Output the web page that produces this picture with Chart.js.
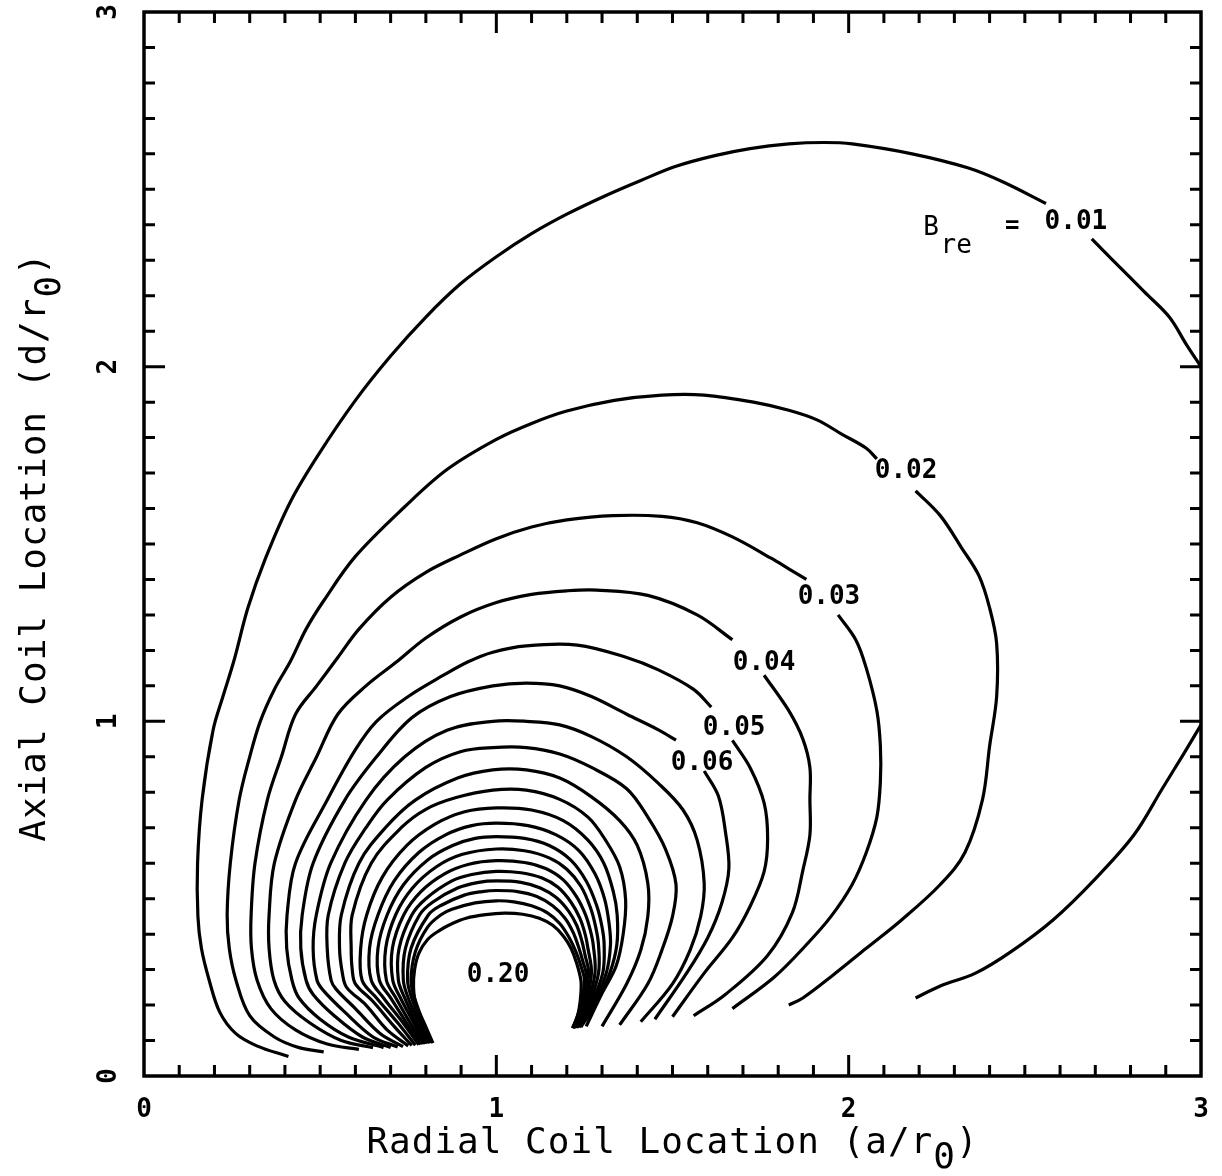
<!DOCTYPE html>
<html><head><meta charset="utf-8">
<script src="https://cdn.jsdelivr.net/npm/chart.js@4.4.1/dist/chart.umd.min.js"></script>
<style>html,body{margin:0;padding:0;background:#fff;}canvas{display:block;}</style>
</head><body>
<canvas id="c" width="1222" height="1176"></canvas>
<script>
// ---- axis tick labels ----
const xTickLabels = ['0', '1', '2', '3'];
const yTickLabels = ['0', '1', '2', '3'];
const xTitle = 'Radial Coil Location (a/r';
const yTitle = 'Axial Coil Location (d/r';
const titleSub = '0';

// ---- contour levels and their labels ----
const labelText = ['0.01', '0.02', '0.03', '0.04', '0.05', '0.06', '0.20'];
const labelX = [2.645, 2.163, 1.944, 1.760, 1.675, 1.584, 1.005];
const labelY = [2.408, 1.706, 1.351, 1.164, 0.981, 0.883, 0.285];

// ---- contour lines (x = a/r0, y = d/r0) ----
const c01a = [[0.41,0.055],[0.32,0.085],[0.26,0.12],[0.215,0.18],[0.185,0.27],[0.163,0.36],[0.153,0.45],[0.152,0.60],[0.165,0.78],[0.196,0.975],[0.224,1.07],[0.255,1.17],[0.295,1.32],[0.345,1.46],[0.416,1.62],[0.497,1.755],[0.60,1.905],[0.70,2.03],[0.80,2.14],[0.90,2.235],[1.00,2.31],[1.10,2.375],[1.20,2.43],[1.305,2.48],[1.41,2.525],[1.51,2.565],[1.62,2.595],[1.72,2.615],[1.83,2.628],[1.93,2.632],[2.01,2.628],[2.18,2.60],[2.34,2.56],[2.44,2.52],[2.56,2.46]];
const c01b = [[2.69,2.36],[2.75,2.30],[2.84,2.21],[2.91,2.14],[2.96,2.06],[3.0,2.0]];
const c01c = [[3.0,0.99],[2.95,0.907],[2.89,0.81],[2.81,0.68],[2.70,0.556],[2.58,0.44],[2.46,0.35],[2.36,0.29],[2.26,0.254],[2.19,0.22]];

const c02a = [[0.51,0.068],[0.44,0.08],[0.37,0.11],[0.30,0.17],[0.261,0.27],[0.242,0.36],[0.236,0.454],[0.245,0.60],[0.27,0.778],[0.30,0.90],[0.33,1.0],[0.37,1.09],[0.416,1.17],[0.46,1.26],[0.51,1.34],[0.60,1.465],[0.74,1.605],[0.86,1.71],[1.00,1.795],[1.10,1.84],[1.20,1.875],[1.335,1.905],[1.47,1.92],[1.59,1.92],[1.73,1.90],[1.83,1.877],[1.91,1.85],[1.98,1.81],[2.05,1.77],[2.08,1.74]];
const c02b = [[2.19,1.65],[2.26,1.58],[2.32,1.49],[2.37,1.41],[2.40,1.32],[2.42,1.22],[2.42,1.07],[2.40,0.93],[2.38,0.78],[2.33,0.63],[2.26,0.54],[2.15,0.44],[2.05,0.36],[1.95,0.28],[1.87,0.22],[1.83,0.20]];

const c03a = [[0.61,0.075],[0.52,0.09],[0.43,0.13],[0.36,0.19],[0.321,0.27],[0.305,0.36],[0.304,0.454],[0.315,0.60],[0.35,0.778],[0.39,0.90],[0.43,1.02],[0.49,1.10],[0.55,1.18],[0.61,1.26],[0.70,1.35],[0.80,1.42],[0.90,1.47],[1.00,1.515],[1.10,1.548],[1.20,1.568],[1.33,1.58],[1.47,1.578],[1.57,1.56],[1.67,1.52],[1.78,1.46],[1.83,1.43],[1.88,1.40]];
const c03b = [[1.97,1.30],[2.02,1.23],[2.05,1.15],[2.08,1.03],[2.09,0.93],[2.09,0.83],[2.08,0.73],[2.05,0.63],[2.01,0.54],[1.95,0.45],[1.88,0.37],[1.79,0.28],[1.67,0.19]];

const c04a = [[0.65,0.08],[0.56,0.10],[0.47,0.15],[0.40,0.21],[0.369,0.27],[0.355,0.36],[0.355,0.454],[0.37,0.60],[0.43,0.778],[0.49,0.90],[0.55,1.02],[0.63,1.10],[0.72,1.17],[0.80,1.235],[0.90,1.295],[1.00,1.335],[1.10,1.358],[1.20,1.368],[1.285,1.37],[1.43,1.355],[1.57,1.30],[1.67,1.23]];
const c04b = [[1.76,1.13],[1.83,1.03],[1.87,0.95],[1.89,0.87],[1.89,0.78],[1.89,0.68],[1.87,0.58],[1.84,0.46],[1.77,0.34],[1.65,0.23],[1.56,0.17]];

const c05a = [[0.68,0.08],[0.58,0.11],[0.50,0.16],[0.44,0.22],[0.42,0.27],[0.405,0.36],[0.406,0.454],[0.43,0.60],[0.52,0.778],[0.60,0.92],[0.66,1.0],[0.75,1.07],[0.85,1.13],[0.92,1.168],[0.99,1.195],[1.085,1.213],[1.23,1.215],[1.37,1.18],[1.46,1.145],[1.56,1.09],[1.61,1.04]];
const c05b = [[1.67,0.946],[1.72,0.87],[1.76,0.77],[1.77,0.67],[1.76,0.576],[1.72,0.478],[1.67,0.39],[1.59,0.29],[1.50,0.167]];

const c06a = [[0.70,0.08],[0.62,0.11],[0.54,0.17],[0.48,0.23],[0.46,0.27],[0.445,0.36],[0.449,0.454],[0.48,0.60],[0.57,0.778],[0.66,0.90],[0.76,1.01],[0.87,1.07],[0.99,1.10],[1.085,1.108],[1.18,1.10],[1.27,1.07],[1.37,1.02],[1.46,0.976],[1.51,0.947]];
const c06b = [[1.59,0.86],[1.63,0.79],[1.65,0.69],[1.66,0.585],[1.64,0.488],[1.60,0.39],[1.54,0.29],[1.45,0.16]];

const c07 = [[0.72,0.082],[0.65,0.11],[0.57,0.18],[0.51,0.24],[0.491,0.27],[0.48,0.36],[0.489,0.454],[0.53,0.60],[0.63,0.778],[0.74,0.90],[0.86,0.975],[0.99,1.00],[1.085,1.00],[1.18,0.99],[1.27,0.957],[1.37,0.90],[1.46,0.825],[1.53,0.75],[1.57,0.665],[1.59,0.543],[1.58,0.45],[1.55,0.355],[1.50,0.26],[1.41,0.153]];
const c08 = [[0.735,0.083],[0.67,0.12],[0.60,0.19],[0.545,0.245],[0.531,0.27],[0.52,0.36],[0.523,0.454],[0.57,0.60],[0.63,0.70],[0.69,0.778],[0.80,0.87],[0.90,0.915],[0.99,0.926],[1.085,0.926],[1.18,0.908],[1.27,0.87],[1.37,0.81],[1.43,0.73],[1.48,0.64],[1.51,0.54],[1.50,0.45],[1.47,0.355],[1.43,0.26],[1.35,0.144]];
const c09 = [[0.75,0.085],[0.69,0.13],[0.63,0.20],[0.575,0.25],[0.563,0.29],[0.555,0.36],[0.56,0.454],[0.61,0.60],[0.685,0.70],[0.77,0.778],[0.89,0.84],[0.99,0.863],[1.085,0.863],[1.18,0.84],[1.27,0.787],[1.35,0.72],[1.40,0.65],[1.43,0.543],[1.43,0.45],[1.41,0.355],[1.37,0.26],[1.30,0.14]];
const c10 = [[0.76,0.086],[0.71,0.14],[0.65,0.21],[0.60,0.26],[0.591,0.30],[0.588,0.36],[0.591,0.454],[0.645,0.60],[0.73,0.70],[0.80,0.752],[0.886,0.785],[0.99,0.806],[1.085,0.806],[1.18,0.78],[1.26,0.73],[1.31,0.665],[1.35,0.59],[1.367,0.496],[1.36,0.40],[1.34,0.31],[1.30,0.233],[1.255,0.14]];
const c11 = [[0.77,0.087],[0.72,0.15],[0.66,0.22],[0.619,0.27],[0.615,0.36],[0.632,0.454],[0.676,0.56],[0.746,0.65],[0.826,0.71],[0.91,0.745],[1.00,0.756],[1.10,0.75],[1.19,0.72],[1.26,0.665],[1.305,0.60],[1.332,0.52],[1.343,0.454],[1.342,0.37],[1.322,0.29],[1.28,0.20],[1.24,0.138]];
const c12 = [[0.78,0.088],[0.735,0.15],[0.68,0.22],[0.645,0.27],[0.64,0.36],[0.664,0.454],[0.71,0.55],[0.78,0.63],[0.856,0.68],[0.93,0.706],[1.00,0.713],[1.09,0.706],[1.17,0.68],[1.235,0.635],[1.28,0.57],[1.307,0.50],[1.32,0.43],[1.324,0.37],[1.312,0.29],[1.274,0.20],[1.235,0.137]];
const c13 = [[0.785,0.089],[0.745,0.15],[0.70,0.22],[0.668,0.27],[0.664,0.36],[0.69,0.454],[0.737,0.54],[0.806,0.61],[0.876,0.65],[0.94,0.67],[1.00,0.675],[1.08,0.67],[1.15,0.65],[1.21,0.61],[1.255,0.55],[1.285,0.48],[1.30,0.42],[1.306,0.37],[1.302,0.29],[1.268,0.20],[1.23,0.137]];
const c14 = [[0.79,0.09],[0.755,0.15],[0.715,0.22],[0.688,0.27],[0.686,0.36],[0.714,0.454],[0.762,0.53],[0.83,0.59],[0.904,0.625],[1.00,0.64],[1.08,0.635],[1.15,0.615],[1.20,0.583],[1.24,0.535],[1.267,0.475],[1.282,0.42],[1.29,0.37],[1.29,0.29],[1.262,0.20],[1.228,0.136]];
const c15 = [[0.795,0.09],[0.765,0.15],[0.728,0.22],[0.706,0.27],[0.705,0.36],[0.737,0.454],[0.786,0.52],[0.853,0.57],[0.922,0.597],[1.00,0.607],[1.08,0.602],[1.14,0.585],[1.19,0.553],[1.228,0.505],[1.253,0.455],[1.267,0.41],[1.275,0.37],[1.28,0.29],[1.257,0.20],[1.225,0.136]];
const c16 = [[0.80,0.091],[0.772,0.15],[0.74,0.22],[0.722,0.27],[0.724,0.36],[0.76,0.454],[0.80,0.50],[0.874,0.55],[0.93,0.568],[1.00,0.577],[1.07,0.573],[1.13,0.558],[1.175,0.532],[1.212,0.49],[1.237,0.445],[1.252,0.40],[1.26,0.36],[1.27,0.29],[1.252,0.20],[1.222,0.136]];
const c17 = [[0.805,0.092],[0.78,0.15],[0.75,0.22],[0.736,0.27],[0.742,0.36],[0.782,0.454],[0.819,0.49],[0.89,0.53],[0.95,0.546],[1.00,0.55],[1.07,0.546],[1.125,0.53],[1.17,0.503],[1.205,0.465],[1.228,0.425],[1.243,0.38],[1.252,0.34],[1.262,0.29],[1.248,0.20],[1.22,0.135]];
const c18 = [[0.81,0.092],[0.787,0.15],[0.76,0.22],[0.748,0.27],[0.758,0.36],[0.807,0.454],[0.841,0.48],[0.909,0.51],[0.96,0.52],[1.00,0.523],[1.06,0.52],[1.115,0.506],[1.16,0.48],[1.195,0.445],[1.218,0.405],[1.233,0.365],[1.245,0.325],[1.256,0.28],[1.244,0.20],[1.218,0.135]];
const c19 = [[0.815,0.093],[0.793,0.15],[0.768,0.22],[0.758,0.27],[0.77,0.35],[0.805,0.42],[0.842,0.454],[0.874,0.47],[0.94,0.488],[1.00,0.494],[1.05,0.491],[1.10,0.48],[1.145,0.46],[1.18,0.43],[1.207,0.39],[1.226,0.35],[1.24,0.31],[1.25,0.27],[1.24,0.20],[1.217,0.135]];
const c20 = [[0.82,0.093],[0.795,0.15],[0.772,0.20],[0.765,0.25],[0.768,0.30],[0.78,0.346],[0.805,0.385],[0.838,0.41],[0.875,0.43],[0.914,0.445],[0.97,0.455],[1.023,0.459],[1.075,0.456],[1.122,0.445],[1.16,0.425],[1.19,0.395],[1.212,0.36],[1.228,0.318],[1.24,0.27],[1.24,0.233],[1.235,0.19],[1.228,0.16],[1.216,0.135]];

const segments = [c01a,c01b,c01c,c02a,c02b,c03a,c03b,c04a,c04b,c05a,c05b,c06a,c06b,
  c07,c08,c09,c10,c11,c12,c13,c14,c15,c16,c17,c18,c19,c20];

const FONT = "'DejaVu Sans Mono', 'Liberation Mono', monospace";

const framePlugin = {
  id: 'frame',
  afterDraw(chart) {
    const {ctx, chartArea: a, scales: {x, y}} = chart;
    ctx.save();
    ctx.strokeStyle = '#000';
    ctx.fillStyle = '#000';
    ctx.lineCap = 'butt';
    ctx.lineWidth = 3.5;
    ctx.strokeRect(a.left, a.top, a.right - a.left, a.bottom - a.top);
    ctx.lineWidth = 3;
    ctx.beginPath();
    for (let i = 1; i < 30; i++) {
      const v = i / 10;
      const len = (i % 10 === 0) ? 21 : 11;
      const px = x.getPixelForValue(v);
      ctx.moveTo(px, a.bottom); ctx.lineTo(px, a.bottom - len);
      ctx.moveTo(px, a.top); ctx.lineTo(px, a.top + len);
      const py = y.getPixelForValue(v);
      ctx.moveTo(a.left, py); ctx.lineTo(a.left + len, py);
      ctx.moveTo(a.right, py); ctx.lineTo(a.right - len, py);
    }
    ctx.stroke();

    ctx.font = 'bold 26px ' + FONT;
    ctx.textAlign = 'center';
    ctx.textBaseline = 'middle';
    xTickLabels.forEach((t, i) => {
      ctx.fillText(t, x.getPixelForValue(i), a.bottom + 34);
    });
    yTickLabels.forEach((t, i) => {
      ctx.save();
      ctx.translate(a.left - 35, y.getPixelForValue(i));
      ctx.rotate(-Math.PI / 2);
      ctx.fillText(t, 0, 0);
      ctx.restore();
    });

    ctx.font = '36px ' + FONT;
    ctx.letterSpacing = '1px';
    ctx.textAlign = 'left';
    ctx.textBaseline = 'alphabetic';
    const drawTitle = (main, cx, cy, rot) => {
      const wMain = ctx.measureText(main).width;
      const wSub = ctx.measureText(titleSub).width;
      const wClose = ctx.measureText(')').width;
      const total = wMain + wSub + wClose;
      ctx.save();
      ctx.translate(cx, cy);
      ctx.rotate(rot);
      let sx = -total / 2;
      ctx.fillText(main, sx, 0);
      sx += wMain;
      ctx.fillText(titleSub, sx, 15);
      sx += wSub;
      ctx.fillText(')', sx, 0);
      ctx.restore();
    };
    drawTitle(xTitle, (a.left + a.right) / 2, 1153, 0);
    drawTitle(yTitle, 45, 547, -Math.PI / 2);
    ctx.letterSpacing = '0px';

    ctx.font = 'bold 26px ' + FONT;
    ctx.textAlign = 'center';
    ctx.textBaseline = 'middle';
    labelText.forEach((t, i) => {
      ctx.fillText(t, x.getPixelForValue(labelX[i]), y.getPixelForValue(labelY[i]));
    });
    ctx.font = '26px ' + FONT;
    ctx.fillText('B', x.getPixelForValue(2.234), y.getPixelForValue(2.391));
    ctx.fillText('re', x.getPixelForValue(2.305), y.getPixelForValue(2.340));
    ctx.font = 'bold 24px ' + FONT;
    ctx.fillText('=', x.getPixelForValue(2.464), y.getPixelForValue(2.394));
    ctx.restore();
  }
};

new Chart(document.getElementById('c'), {
  type: 'scatter',
  data: {
    datasets: segments.map(seg => ({
      data: seg.map(([px, py]) => ({x: px, y: py})),
      showLine: true,
      pointRadius: 0,
      pointHoverRadius: 0,
      borderColor: '#000',
      backgroundColor: '#000',
      borderWidth: 3.2,
      tension: 0.35,
      fill: false
    }))
  },
  options: {
    responsive: false,
    animation: false,
    events: [],
    layout: {padding: {left: 144, right: 21, top: 12, bottom: 100}},
    plugins: {legend: {display: false}, tooltip: {enabled: false}},
    scales: {
      x: {type: 'linear', min: 0, max: 3, display: false},
      y: {type: 'linear', min: 0, max: 3, display: false}
    }
  },
  plugins: [framePlugin]
});
</script>
</body></html>
